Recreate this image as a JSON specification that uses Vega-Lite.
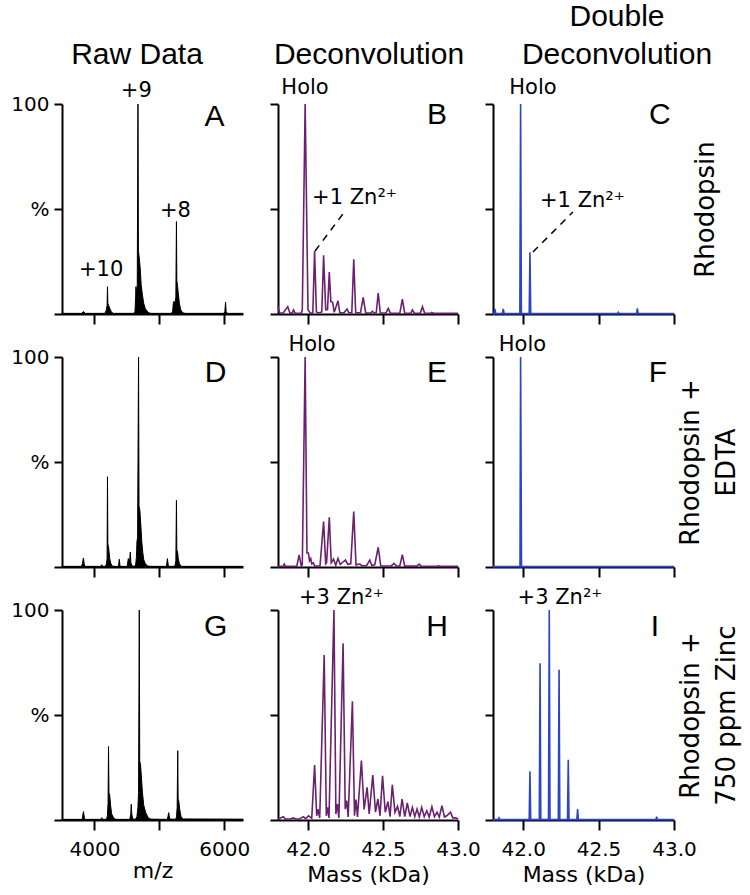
{
"$schema": "https://vega.github.io/schema/vega-lite/v6.json",
"padding": {"left": 10, "top": 1, "right": 5, "bottom": 5},
"background": "white",
"bounds": "flush",
"columns": 3,
"spacing": {"row": 43, "column": 35},
"datasets": {
"raw": [
{"p":"A","x":3500,"y":0.3},{"p":"A","x":3805,"y":0.3},{"p":"A","x":3830,"y":1.2},{"p":"A","x":3855,"y":0.3},
{"p":"A","x":4160,"y":0.3},{"p":"A","x":4180,"y":1.5},{"p":"A","x":4195,"y":4},{"p":"A","x":4201,"y":13},{"p":"A","x":4207,"y":5},{"p":"A","x":4220,"y":4},{"p":"A","x":4240,"y":2.5},{"p":"A","x":4260,"y":1},{"p":"A","x":4290,"y":0.3},
{"p":"A","x":4600,"y":0.3},{"p":"A","x":4625,"y":1},{"p":"A","x":4635,"y":8},{"p":"A","x":4640,"y":13},{"p":"A","x":4648,"y":9},{"p":"A","x":4660,"y":14},{"p":"A","x":4671,"y":100},{"p":"A","x":4678,"y":30},{"p":"A","x":4690,"y":27},{"p":"A","x":4705,"y":22},{"p":"A","x":4720,"y":14},{"p":"A","x":4740,"y":9},{"p":"A","x":4760,"y":5},{"p":"A","x":4785,"y":2.5},{"p":"A","x":4810,"y":1.5},{"p":"A","x":4840,"y":0.5},{"p":"A","x":4880,"y":0.3},
{"p":"A","x":5180,"y":0.3},{"p":"A","x":5205,"y":1},{"p":"A","x":5215,"y":5},{"p":"A","x":5225,"y":6},{"p":"A","x":5240,"y":5},{"p":"A","x":5255,"y":8},{"p":"A","x":5264,"y":44},{"p":"A","x":5270,"y":16},{"p":"A","x":5282,"y":13},{"p":"A","x":5295,"y":9},{"p":"A","x":5310,"y":5},{"p":"A","x":5330,"y":2},{"p":"A","x":5360,"y":0.6},{"p":"A","x":5400,"y":0.3},
{"p":"A","x":5990,"y":0.3},{"p":"A","x":6010,"y":1},{"p":"A","x":6021,"y":5.7},{"p":"A","x":6030,"y":1},{"p":"A","x":6050,"y":0.3},{"p":"A","x":6290,"y":0.3},
{"p":"D","x":3500,"y":0.3},{"p":"D","x":3800,"y":0.3},{"p":"D","x":3815,"y":1.5},{"p":"D","x":3830,"y":4.3},{"p":"D","x":3845,"y":1},{"p":"D","x":3860,"y":0.3},
{"p":"D","x":4100,"y":0.3},{"p":"D","x":4113,"y":1.1},{"p":"D","x":4125,"y":0.3},
{"p":"D","x":4170,"y":0.3},{"p":"D","x":4185,"y":1.5},{"p":"D","x":4195,"y":4},{"p":"D","x":4201,"y":43},{"p":"D","x":4207,"y":11},{"p":"D","x":4220,"y":9},{"p":"D","x":4235,"y":4},{"p":"D","x":4250,"y":2},{"p":"D","x":4270,"y":0.5},{"p":"D","x":4300,"y":0.3},
{"p":"D","x":4370,"y":0.3},{"p":"D","x":4383,"y":3.7},{"p":"D","x":4395,"y":0.3},
{"p":"D","x":4505,"y":0.3},{"p":"D","x":4522,"y":4},{"p":"D","x":4535,"y":2},{"p":"D","x":4545,"y":4},{"p":"D","x":4553,"y":7.1},{"p":"D","x":4562,"y":2},{"p":"D","x":4580,"y":0.5},
{"p":"D","x":4610,"y":0.3},{"p":"D","x":4635,"y":1},{"p":"D","x":4648,"y":5},{"p":"D","x":4655,"y":12},{"p":"D","x":4665,"y":14},{"p":"D","x":4680,"y":100},{"p":"D","x":4687,"y":29},{"p":"D","x":4700,"y":27},{"p":"D","x":4715,"y":20},{"p":"D","x":4730,"y":12},{"p":"D","x":4745,"y":7},{"p":"D","x":4760,"y":3.5},{"p":"D","x":4785,"y":1.5},{"p":"D","x":4820,"y":0.5},{"p":"D","x":4870,"y":0.3},
{"p":"D","x":5110,"y":0.3},{"p":"D","x":5125,"y":4},{"p":"D","x":5140,"y":0.3},
{"p":"D","x":5230,"y":0.3},{"p":"D","x":5245,"y":1},{"p":"D","x":5255,"y":3},{"p":"D","x":5264,"y":31.7},{"p":"D","x":5270,"y":8},{"p":"D","x":5280,"y":7.5},{"p":"D","x":5292,"y":4},{"p":"D","x":5310,"y":1.5},{"p":"D","x":5340,"y":0.3},{"p":"D","x":6290,"y":0.3},
{"p":"G","x":3500,"y":0.3},{"p":"G","x":3810,"y":0.3},{"p":"G","x":3830,"y":4},{"p":"G","x":3850,"y":0.3},
{"p":"G","x":4100,"y":0.3},{"p":"G","x":4113,"y":1.1},{"p":"G","x":4125,"y":0.3},
{"p":"G","x":4185,"y":0.3},{"p":"G","x":4200,"y":2},{"p":"G","x":4210,"y":8},{"p":"G","x":4217,"y":35},{"p":"G","x":4224,"y":13},{"p":"G","x":4235,"y":12},{"p":"G","x":4250,"y":6.7},{"p":"G","x":4265,"y":3},{"p":"G","x":4280,"y":1.9},{"p":"G","x":4310,"y":0.5},{"p":"G","x":4340,"y":0.3},
{"p":"G","x":4545,"y":0.3},{"p":"G","x":4560,"y":3},{"p":"G","x":4567,"y":7.5},{"p":"G","x":4575,"y":3},{"p":"G","x":4590,"y":0.5},
{"p":"G","x":4630,"y":0.3},{"p":"G","x":4655,"y":1.5},{"p":"G","x":4670,"y":6},{"p":"G","x":4680,"y":13},{"p":"G","x":4691,"y":100},{"p":"G","x":4698,"y":28},{"p":"G","x":4710,"y":26.5},{"p":"G","x":4725,"y":20},{"p":"G","x":4740,"y":13},{"p":"G","x":4760,"y":7},{"p":"G","x":4790,"y":3.5},{"p":"G","x":4830,"y":1},{"p":"G","x":4870,"y":0.4},
{"p":"G","x":5125,"y":0.3},{"p":"G","x":5145,"y":3.5},{"p":"G","x":5160,"y":0.5},
{"p":"G","x":5250,"y":0.3},{"p":"G","x":5265,"y":1.5},{"p":"G","x":5275,"y":6},{"p":"G","x":5284,"y":33},{"p":"G","x":5290,"y":10},{"p":"G","x":5300,"y":9},{"p":"G","x":5315,"y":5},{"p":"G","x":5335,"y":1.5},{"p":"G","x":5370,"y":0.5},{"p":"G","x":6290,"y":0.4}
],
"dec": [
{"p":"B","x":41.800,"y":4.0},{"p":"B","x":41.810,"y":0.5},{"p":"B","x":41.835,"y":0.5},{"p":"B","x":41.865,"y":3.5},{"p":"B","x":41.880,"y":0.4},{"p":"B","x":41.895,"y":0.4},{"p":"B","x":41.903,"y":1.9},{"p":"B","x":41.915,"y":0.3},{"p":"B","x":41.955,"y":0.3},{"p":"B","x":41.962,"y":2},{"p":"B","x":41.981,"y":100},{"p":"B","x":42.000,"y":2},{"p":"B","x":42.015,"y":0.5},{"p":"B","x":42.032,"y":0.5},{"p":"B","x":42.044,"y":30},{"p":"B","x":42.056,"y":1},{"p":"B","x":42.070,"y":0.5},{"p":"B","x":42.092,"y":1},{"p":"B","x":42.104,"y":28},{"p":"B","x":42.118,"y":2},{"p":"B","x":42.130,"y":2},{"p":"B","x":42.142,"y":20},{"p":"B","x":42.152,"y":6},{"p":"B","x":42.164,"y":5.6},{"p":"B","x":42.175,"y":0.8},{"p":"B","x":42.200,"y":6.3},{"p":"B","x":42.212,"y":0.6},{"p":"B","x":42.240,"y":0.6},{"p":"B","x":42.260,"y":2.4},{"p":"B","x":42.272,"y":0.6},{"p":"B","x":42.292,"y":0.6},{"p":"B","x":42.305,"y":26},{"p":"B","x":42.318,"y":0.6},{"p":"B","x":42.350,"y":0.6},{"p":"B","x":42.368,"y":7.9},{"p":"B","x":42.385,"y":0.4},{"p":"B","x":42.418,"y":0.4},{"p":"B","x":42.428,"y":1.3},{"p":"B","x":42.445,"y":0.4},{"p":"B","x":42.455,"y":0.6},{"p":"B","x":42.468,"y":10},{"p":"B","x":42.482,"y":0.5},{"p":"B","x":42.520,"y":0.5},{"p":"B","x":42.535,"y":2.7},{"p":"B","x":42.550,"y":0.3},{"p":"B","x":42.612,"y":0.3},{"p":"B","x":42.629,"y":7.1},{"p":"B","x":42.645,"y":0.3},{"p":"B","x":42.685,"y":0.3},{"p":"B","x":42.696,"y":1.9},{"p":"B","x":42.710,"y":0.3},{"p":"B","x":42.748,"y":0.3},{"p":"B","x":42.763,"y":3.5},{"p":"B","x":42.778,"y":0.3},{"p":"B","x":42.815,"y":0.3},{"p":"B","x":42.825,"y":0.8},{"p":"B","x":42.838,"y":0.3},{"p":"B","x":43.000,"y":0.3},
{"p":"E","x":41.800,"y":0.3},{"p":"E","x":41.835,"y":0.3},{"p":"E","x":41.842,"y":1.4},{"p":"E","x":41.850,"y":0.3},{"p":"E","x":41.925,"y":0.3},{"p":"E","x":41.941,"y":5.7},{"p":"E","x":41.955,"y":0.5},{"p":"E","x":41.962,"y":1},{"p":"E","x":41.981,"y":100},{"p":"E","x":41.993,"y":6.7},{"p":"E","x":42.003,"y":6.7},{"p":"E","x":42.010,"y":3},{"p":"E","x":42.018,"y":4},{"p":"E","x":42.025,"y":1.5},{"p":"E","x":42.035,"y":2},{"p":"E","x":42.045,"y":0.5},{"p":"E","x":42.080,"y":0.5},{"p":"E","x":42.104,"y":21.6},{"p":"E","x":42.118,"y":1.5},{"p":"E","x":42.124,"y":2},{"p":"E","x":42.142,"y":23.7},{"p":"E","x":42.155,"y":2},{"p":"E","x":42.170,"y":3.8},{"p":"E","x":42.185,"y":0.8},{"p":"E","x":42.200,"y":4.1},{"p":"E","x":42.215,"y":1.2},{"p":"E","x":42.235,"y":2.5},{"p":"E","x":42.250,"y":3.3},{"p":"E","x":42.265,"y":1.3},{"p":"E","x":42.285,"y":1.5},{"p":"E","x":42.305,"y":26.4},{"p":"E","x":42.320,"y":1.0},{"p":"E","x":42.345,"y":1.4},{"p":"E","x":42.360,"y":0.6},{"p":"E","x":42.390,"y":0.6},{"p":"E","x":42.412,"y":3.3},{"p":"E","x":42.425,"y":0.8},{"p":"E","x":42.445,"y":1},{"p":"E","x":42.468,"y":9.4},{"p":"E","x":42.485,"y":0.5},{"p":"E","x":42.555,"y":0.5},{"p":"E","x":42.573,"y":1.7},{"p":"E","x":42.590,"y":0.5},{"p":"E","x":42.612,"y":0.5},{"p":"E","x":42.629,"y":5.9},{"p":"E","x":42.645,"y":0.4},{"p":"E","x":42.725,"y":0.4},{"p":"E","x":42.741,"y":1.4},{"p":"E","x":42.755,"y":0.3},{"p":"E","x":42.860,"y":0.3},{"p":"E","x":42.870,"y":0.6},{"p":"E","x":42.880,"y":0.3},{"p":"E","x":43.000,"y":0.3},
{"p":"H","x":41.800,"y":0.5},{"p":"H","x":41.836,"y":1.6},{"p":"H","x":41.850,"y":0.4},{"p":"H","x":41.880,"y":0.5},{"p":"H","x":41.903,"y":1},{"p":"H","x":41.920,"y":0.4},{"p":"H","x":41.945,"y":0.6},{"p":"H","x":41.970,"y":1.6},{"p":"H","x":41.985,"y":0.6},{"p":"H","x":42.003,"y":2},{"p":"H","x":42.025,"y":0.8},{"p":"H","x":42.044,"y":26.2},{"p":"H","x":42.058,"y":2},{"p":"H","x":42.066,"y":5.2},{"p":"H","x":42.078,"y":1},{"p":"H","x":42.108,"y":78.6},{"p":"H","x":42.122,"y":2},{"p":"H","x":42.130,"y":6},{"p":"H","x":42.140,"y":1},{"p":"H","x":42.173,"y":100},{"p":"H","x":42.186,"y":2.9},{"p":"H","x":42.196,"y":7.6},{"p":"H","x":42.206,"y":1},{"p":"H","x":42.234,"y":84.1},{"p":"H","x":42.248,"y":5.2},{"p":"H","x":42.258,"y":9.2},{"p":"H","x":42.268,"y":1.5},{"p":"H","x":42.296,"y":56.5},{"p":"H","x":42.310,"y":2},{"p":"H","x":42.320,"y":9.7},{"p":"H","x":42.330,"y":1.5},{"p":"H","x":42.356,"y":28.3},{"p":"H","x":42.374,"y":5},{"p":"H","x":42.394,"y":15.6},{"p":"H","x":42.408,"y":2.9},{"p":"H","x":42.432,"y":21.4},{"p":"H","x":42.450,"y":3.7},{"p":"H","x":42.466,"y":10},{"p":"H","x":42.480,"y":2},{"p":"H","x":42.497,"y":21.1},{"p":"H","x":42.515,"y":3.7},{"p":"H","x":42.533,"y":8.7},{"p":"H","x":42.547,"y":1.6},{"p":"H","x":42.562,"y":16.8},{"p":"H","x":42.580,"y":3.7},{"p":"H","x":42.597,"y":6.5},{"p":"H","x":42.612,"y":1.6},{"p":"H","x":42.627,"y":10},{"p":"H","x":42.645,"y":1.6},{"p":"H","x":42.662,"y":8.1},{"p":"H","x":42.680,"y":1.6},{"p":"H","x":42.696,"y":6},{"p":"H","x":42.712,"y":1.6},{"p":"H","x":42.727,"y":5.2},{"p":"H","x":42.742,"y":1.5},{"p":"H","x":42.758,"y":6},{"p":"H","x":42.775,"y":1.6},{"p":"H","x":42.792,"y":4.4},{"p":"H","x":42.808,"y":1.4},{"p":"H","x":42.826,"y":6.3},{"p":"H","x":42.843,"y":1.6},{"p":"H","x":42.860,"y":3.7},{"p":"H","x":42.875,"y":1.4},{"p":"H","x":42.893,"y":6.8},{"p":"H","x":42.910,"y":1.4},{"p":"H","x":42.925,"y":2},{"p":"H","x":42.950,"y":3.7},{"p":"H","x":42.965,"y":1},{"p":"H","x":42.985,"y":1},{"p":"H","x":43.000,"y":0.5}
],
"dd": [
{"p":"C","x":41.800,"y":0.2},{"p":"C","x":41.808,"y":0.2},{"p":"C","x":41.813,"y":2.4},{"p":"C","x":41.818,"y":0.2},{"p":"C","x":41.862,"y":0.2},{"p":"C","x":41.868,"y":2.4},{"p":"C","x":41.874,"y":0.2},{"p":"C","x":41.978,"y":0.2},{"p":"C","x":41.983,"y":100},{"p":"C","x":41.988,"y":0.2},{"p":"C","x":42.040,"y":0.2},{"p":"C","x":42.045,"y":29.4},{"p":"C","x":42.050,"y":0.2},{"p":"C","x":42.626,"y":0.2},{"p":"C","x":42.631,"y":0.8},{"p":"C","x":42.636,"y":0.2},{"p":"C","x":42.752,"y":0.2},{"p":"C","x":42.757,"y":2.7},{"p":"C","x":42.762,"y":0.2},{"p":"C","x":43.000,"y":0.2},
{"p":"F","x":41.800,"y":0.2},{"p":"F","x":41.979,"y":0.2},{"p":"F","x":41.983,"y":100},{"p":"F","x":41.989,"y":0.2},{"p":"F","x":43.000,"y":0.2},
{"p":"I","x":41.800,"y":0.2},{"p":"I","x":41.835,"y":0.2},{"p":"I","x":41.840,"y":1},{"p":"I","x":41.845,"y":0.2},{"p":"I","x":42.040,"y":0.2},{"p":"I","x":42.045,"y":23.2},{"p":"I","x":42.050,"y":0.2},{"p":"I","x":42.107,"y":0.2},{"p":"I","x":42.112,"y":74.6},{"p":"I","x":42.117,"y":0.2},{"p":"I","x":42.168,"y":0.2},{"p":"I","x":42.173,"y":100},{"p":"I","x":42.178,"y":0.2},{"p":"I","x":42.233,"y":0.2},{"p":"I","x":42.238,"y":71.6},{"p":"I","x":42.243,"y":0.2},{"p":"I","x":42.294,"y":0.2},{"p":"I","x":42.299,"y":28.7},{"p":"I","x":42.304,"y":0.2},{"p":"I","x":42.356,"y":0.2},{"p":"I","x":42.361,"y":5.2},{"p":"I","x":42.366,"y":0.2},{"p":"I","x":42.880,"y":0.2},{"p":"I","x":42.885,"y":1.6},{"p":"I","x":42.890,"y":0.2},{"p":"I","x":43.000,"y":0.2}
],
"notes": [
{"p":"A","x":4645,"y":103.3,"t":"+9"},{"p":"A","x":4103,"y":18.1,"t":"+10"},{"p":"A","x":5248,"y":46.2,"t":"+8"},
{"p":"B","x":41.98,"y":104.8,"t":"Holo"},{"p":"B","x":42.31,"y":52.4,"t":"+1 Zn²⁺"},
{"p":"C","x":42.065,"y":104.8,"t":"Holo"},{"p":"C","x":42.393,"y":51,"t":"+1 Zn²⁺"},
{"p":"E","x":42.027,"y":102.9,"t":"Holo"},{"p":"F","x":41.995,"y":102.9,"t":"Holo"},
{"p":"H","x":42.223,"y":102.9,"t":"+3 Zn²⁺"},{"p":"I","x":42.244,"y":102.9,"t":"+3 Zn²⁺"}
],
"letters": [
{"p":"A","x":5851,"y":89.5,"t":"A"},{"p":"B","x":42.86,"y":90.5,"t":"B"},{"p":"C","x":42.906,"y":90.5,"t":"C"},
{"p":"D","x":5867,"y":88.1,"t":"D"},{"p":"E","x":42.86,"y":88.1,"t":"E"},{"p":"F","x":42.893,"y":88.1,"t":"F"},
{"p":"G","x":5867,"y":87.6,"t":"G"},{"p":"H","x":42.86,"y":87.6,"t":"H"},{"p":"I","x":42.873,"y":87.6,"t":"I"}
],
"leaders": [
{"p":"B","x":42.047,"y":30,"x2":42.247,"y2":49},
{"p":"C","x":42.065,"y":29.5,"x2":42.33,"y2":48.6}
]
},
"concat": [
{"width":181,"height":210,"title":{"text":"Raw Data","dx":-15.5,"offset":10},
"encoding":{"x":{"field":"x","type":"quantitative","scale":{"domain":[3500,6290],"nice":false,"zero":false},"axis":{"values":[4000,5000,6000],"labels":false,"title":null,"tickSize":10}},
"y":{"field":"y","type":"quantitative","stack":null,"scale":{"domain":[0,100],"nice":false,"zero":false},"axis":{"values":[0,50,100],"labelExpr":"datum.value == 100 ? '100' : datum.value == 50 ? '%' : ''","tickSize":8,"labelPadding":5,"title":null}}},
"layer":[
{"data":{"name":"raw"},"transform":[{"filter":"datum.p === 'A'"}],"mark":{"type":"area","color":"black","stroke":"black","strokeWidth":1}},
{"data":{"name":"notes"},"transform":[{"filter":"datum.p === 'A'"}],"mark":{"type":"text","fontSize":21,"align":"center","baseline":"alphabetic"},"encoding":{"text":{"field":"t"}}},
{"data":{"name":"letters"},"transform":[{"filter":"datum.p === 'A'"}],"mark":{"type":"text","font":"Liberation Sans","fontSize":30,"align":"center","baseline":"alphabetic"},"encoding":{"text":{"field":"t"}}}
]},
{"width":180,"height":210,"title":{"text":"Deconvolution","dx":1,"offset":7},
"encoding":{"x":{"field":"x","type":"quantitative","scale":{"domain":[41.8,43.0],"nice":false,"zero":false},"axis":{"values":[42,42.5,43],"labels":false,"title":null,"tickSize":10}},
"y":{"field":"y","type":"quantitative","scale":{"domain":[0,100],"nice":false,"zero":false},"axis":{"values":[0,50,100],"labels":false,"tickSize":8,"title":null}}},
"layer":[
{"data":{"name":"dec"},"transform":[{"filter":"datum.p === 'B'"}],"mark":{"type":"line","color":"#6b2070","strokeWidth":1.6}},
{"data":{"name":"notes"},"transform":[{"filter":"datum.p === 'B'"}],"mark":{"type":"text","fontSize":21,"align":"center","baseline":"alphabetic"},"encoding":{"text":{"field":"t"}}},
{"data":{"name":"letters"},"transform":[{"filter":"datum.p === 'B'"}],"mark":{"type":"text","font":"Liberation Sans","fontSize":30,"align":"center","baseline":"alphabetic"},"encoding":{"text":{"field":"t"}}},
{"data":{"name":"leaders"},"transform":[{"filter":"datum.p === 'B'"}],"mark":{"type":"rule","color":"black","strokeWidth":1.5,"strokeDash":[7,6]},"encoding":{"x2":{"field":"x2"},"y2":{"field":"y2"}}}
]},
{"width":181,"height":210,"title":{"text":["Double","Deconvolution"],"dx":33.5,"offset":7,"lineHeight":38},
"resolve":{"axis":{"y":"independent"}},
"encoding":{"x":{"field":"x","type":"quantitative","scale":{"domain":[41.8,43.0],"nice":false,"zero":false},"axis":{"values":[42,42.5,43],"labels":false,"title":null,"tickSize":10}},
"y":{"field":"y","type":"quantitative","scale":{"domain":[0,100],"nice":false,"zero":false},"axis":null}},
"layer":[
{"data":{"name":"dd"},"transform":[{"filter":"datum.p === 'C'"}],"mark":{"type":"line","color":"#2b45c8","strokeWidth":1.6},
"encoding":{"y":{"field":"y","type":"quantitative","scale":{"domain":[0,100],"nice":false,"zero":false},"axis":{"orient":"left","values":[0,50,100],"labels":false,"tickSize":8,"title":null}}}},
{"data":{"name":"notes"},"transform":[{"filter":"datum.p === 'C'"}],"mark":{"type":"text","fontSize":21,"align":"center","baseline":"alphabetic"},
"encoding":{"text":{"field":"t"},"y":{"field":"y","type":"quantitative","scale":{"domain":[0,100],"nice":false,"zero":false},"axis":{"orient":"right","domain":false,"ticks":false,"labels":false,"title":"Rhodopsin","titleAngle":270,"titleBaseline":"top","titleAlign":"center","titlePadding":18,"titleFontSize":26,"titleLineHeight":36}}}},
{"data":{"name":"letters"},"transform":[{"filter":"datum.p === 'C'"}],"mark":{"type":"text","font":"Liberation Sans","fontSize":30,"align":"center","baseline":"alphabetic"},"encoding":{"text":{"field":"t"}}},
{"data":{"name":"leaders"},"transform":[{"filter":"datum.p === 'C'"}],"mark":{"type":"rule","color":"black","strokeWidth":1.5,"strokeDash":[7,6]},"encoding":{"x2":{"field":"x2"},"y2":{"field":"y2"}}}
]},
{"width":181,"height":210,
"encoding":{"x":{"field":"x","type":"quantitative","scale":{"domain":[3500,6290],"nice":false,"zero":false},"axis":{"values":[4000,5000,6000],"labels":false,"title":null,"tickSize":10}},
"y":{"field":"y","type":"quantitative","stack":null,"scale":{"domain":[0,100],"nice":false,"zero":false},"axis":{"values":[0,50,100],"labelExpr":"datum.value == 100 ? '100' : datum.value == 50 ? '%' : ''","tickSize":8,"labelPadding":5,"title":null}}},
"layer":[
{"data":{"name":"raw"},"transform":[{"filter":"datum.p === 'D'"}],"mark":{"type":"area","color":"black","stroke":"black","strokeWidth":1}},
{"data":{"name":"letters"},"transform":[{"filter":"datum.p === 'D'"}],"mark":{"type":"text","font":"Liberation Sans","fontSize":30,"align":"center","baseline":"alphabetic"},"encoding":{"text":{"field":"t"}}}
]},
{"width":180,"height":210,
"encoding":{"x":{"field":"x","type":"quantitative","scale":{"domain":[41.8,43.0],"nice":false,"zero":false},"axis":{"values":[42,42.5,43],"labels":false,"title":null,"tickSize":10}},
"y":{"field":"y","type":"quantitative","scale":{"domain":[0,100],"nice":false,"zero":false},"axis":{"values":[0,50,100],"labels":false,"tickSize":8,"title":null}}},
"layer":[
{"data":{"name":"dec"},"transform":[{"filter":"datum.p === 'E'"}],"mark":{"type":"line","color":"#6b2070","strokeWidth":1.6}},
{"data":{"name":"notes"},"transform":[{"filter":"datum.p === 'E'"}],"mark":{"type":"text","fontSize":21,"align":"center","baseline":"alphabetic"},"encoding":{"text":{"field":"t"}}},
{"data":{"name":"letters"},"transform":[{"filter":"datum.p === 'E'"}],"mark":{"type":"text","font":"Liberation Sans","fontSize":30,"align":"center","baseline":"alphabetic"},"encoding":{"text":{"field":"t"}}}
]},
{"width":181,"height":210,
"resolve":{"axis":{"y":"independent"}},
"encoding":{"x":{"field":"x","type":"quantitative","scale":{"domain":[41.8,43.0],"nice":false,"zero":false},"axis":{"values":[42,42.5,43],"labels":false,"title":null,"tickSize":10}},
"y":{"field":"y","type":"quantitative","scale":{"domain":[0,100],"nice":false,"zero":false},"axis":null}},
"layer":[
{"data":{"name":"dd"},"transform":[{"filter":"datum.p === 'F'"}],"mark":{"type":"line","color":"#2b45c8","strokeWidth":1.6},
"encoding":{"y":{"field":"y","type":"quantitative","scale":{"domain":[0,100],"nice":false,"zero":false},"axis":{"orient":"left","values":[0,50,100],"labels":false,"tickSize":8,"title":null}}}},
{"data":{"name":"notes"},"transform":[{"filter":"datum.p === 'F'"}],"mark":{"type":"text","fontSize":21,"align":"center","baseline":"alphabetic"},
"encoding":{"text":{"field":"t"},"y":{"field":"y","type":"quantitative","scale":{"domain":[0,100],"nice":false,"zero":false},"axis":{"orient":"right","domain":false,"ticks":false,"labels":false,"title":["Rhodopsin +","EDTA"],"titleAngle":270,"titleBaseline":"top","titleAlign":"center","titlePadding":-33,"titleFontSize":26,"titleLineHeight":36}}}},
{"data":{"name":"letters"},"transform":[{"filter":"datum.p === 'F'"}],"mark":{"type":"text","font":"Liberation Sans","fontSize":30,"align":"center","baseline":"alphabetic"},"encoding":{"text":{"field":"t"}}}
]},
{"width":181,"height":210,
"encoding":{"x":{"field":"x","type":"quantitative","scale":{"domain":[3500,6290],"nice":false,"zero":false},"axis":{"values":[4000,5000,6000],"format":"d","labelExpr":"datum.value == 5000 ? '' : datum.label","labelPadding":9,"tickSize":10,"title":"m/z","titlePadding":1}},
"y":{"field":"y","type":"quantitative","stack":null,"scale":{"domain":[0,100],"nice":false,"zero":false},"axis":{"values":[0,50,100],"labelExpr":"datum.value == 100 ? '100' : datum.value == 50 ? '%' : ''","tickSize":8,"labelPadding":5,"title":null}}},
"layer":[
{"data":{"name":"raw"},"transform":[{"filter":"datum.p === 'G'"}],"mark":{"type":"area","color":"black","stroke":"black","strokeWidth":1}},
{"data":{"name":"letters"},"transform":[{"filter":"datum.p === 'G'"}],"mark":{"type":"text","font":"Liberation Sans","fontSize":30,"align":"center","baseline":"alphabetic"},"encoding":{"text":{"field":"t"}}}
]},
{"width":180,"height":210,
"encoding":{"x":{"field":"x","type":"quantitative","scale":{"domain":[41.8,43.0],"nice":false,"zero":false},"axis":{"values":[42,42.5,43],"format":".1f","labelPadding":9,"tickSize":10,"title":"Mass (kDa)","titlePadding":5}},
"y":{"field":"y","type":"quantitative","scale":{"domain":[0,100],"nice":false,"zero":false},"axis":{"values":[0,50,100],"labels":false,"tickSize":8,"title":null}}},
"layer":[
{"data":{"name":"dec"},"transform":[{"filter":"datum.p === 'H'"}],"mark":{"type":"line","color":"#6b2070","strokeWidth":1.6}},
{"data":{"name":"notes"},"transform":[{"filter":"datum.p === 'H'"}],"mark":{"type":"text","fontSize":21,"align":"center","baseline":"alphabetic"},"encoding":{"text":{"field":"t"}}},
{"data":{"name":"letters"},"transform":[{"filter":"datum.p === 'H'"}],"mark":{"type":"text","font":"Liberation Sans","fontSize":30,"align":"center","baseline":"alphabetic"},"encoding":{"text":{"field":"t"}}}
]},
{"width":181,"height":210,
"resolve":{"axis":{"y":"independent"}},
"encoding":{"x":{"field":"x","type":"quantitative","scale":{"domain":[41.8,43.0],"nice":false,"zero":false},"axis":{"values":[42,42.5,43],"format":".1f","labelPadding":9,"tickSize":10,"title":"Mass (kDa)","titlePadding":5}},
"y":{"field":"y","type":"quantitative","scale":{"domain":[0,100],"nice":false,"zero":false},"axis":null}},
"layer":[
{"data":{"name":"dd"},"transform":[{"filter":"datum.p === 'I'"}],"mark":{"type":"line","color":"#2b45c8","strokeWidth":1.6},
"encoding":{"y":{"field":"y","type":"quantitative","scale":{"domain":[0,100],"nice":false,"zero":false},"axis":{"orient":"left","values":[0,50,100],"labels":false,"tickSize":8,"title":null}}}},
{"data":{"name":"notes"},"transform":[{"filter":"datum.p === 'I'"}],"mark":{"type":"text","fontSize":21,"align":"center","baseline":"alphabetic"},
"encoding":{"text":{"field":"t"},"y":{"field":"y","type":"quantitative","scale":{"domain":[0,100],"nice":false,"zero":false},"axis":{"orient":"right","domain":false,"ticks":false,"labels":false,"title":["Rhodopsin +","750 ppm Zinc"],"titleAngle":270,"titleBaseline":"top","titleAlign":"center","titlePadding":-33,"titleFontSize":26,"titleLineHeight":36}}}},
{"data":{"name":"letters"},"transform":[{"filter":"datum.p === 'I'"}],"mark":{"type":"text","font":"Liberation Sans","fontSize":30,"align":"center","baseline":"alphabetic"},"encoding":{"text":{"field":"t"}}}
]}
],
"config": {
"view": {"stroke": null},
"axis": {"grid": false, "domainColor": "black", "domainWidth": 2, "tickColor": "black", "tickWidth": 2, "labelColor": "black", "labelFont": "DejaVu Sans", "labelFontSize": 20, "titleFont": "DejaVu Sans", "titleFontSize": 22, "titleFontWeight": "normal", "titleColor": "black", "labelFlush": false, "zindex": 1},
"title": {"font": "Liberation Sans", "fontSize": 30, "fontWeight": "normal", "color": "black", "anchor": "middle"},
"text": {"font": "DejaVu Sans", "color": "black"}
}
}
